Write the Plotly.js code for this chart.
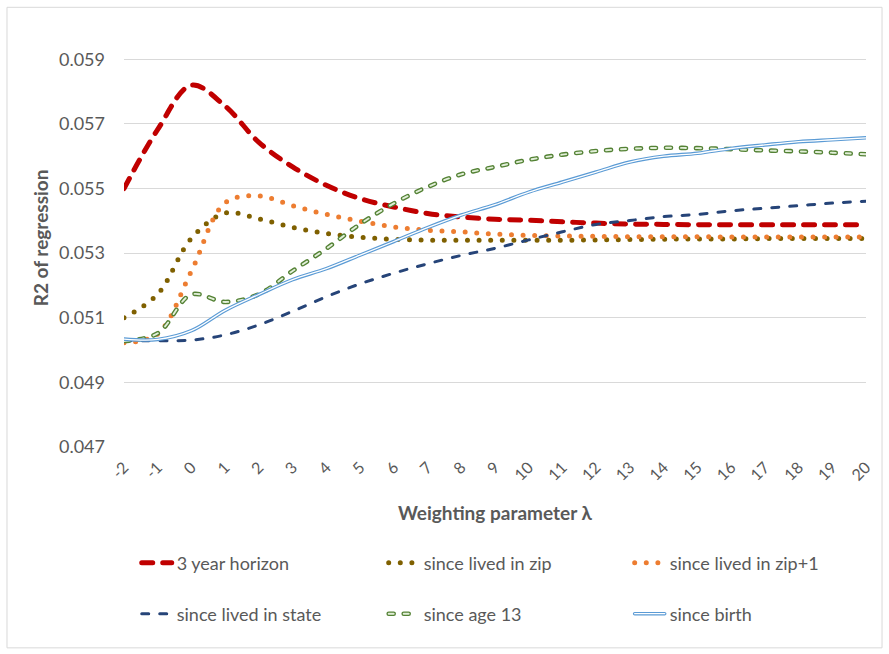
<!DOCTYPE html>
<html>
<head>
<meta charset="utf-8">
<script src="https://cdn.plot.ly/plotly-3.0.1.min.js"></script>
<style>
html,body{margin:0;padding:0;background:#fff;}
#chart{width:889px;height:654px;}
path.js-line{stroke-linecap:round;}
</style>
</head>
<body>
<div id="chart"></div>
<script>
// ---- data ----
const lambda = [-2,-1,0,1,2,3,4,5,6,7,8,9,10,11,12,13,14,15,16,17,18,19,20];
const yTicks = [0.047,0.049,0.051,0.053,0.055,0.057,0.059];
const seriesNames = ["3 year horizon","since lived in zip","since lived in zip+1","since lived in state","since age 13","since birth"];

const horizon3   = [0.0550,0.05683,0.0582,0.05755,0.05643,0.05567,0.0551,0.05469,0.05443,0.05423,0.05412,0.05405,0.05402,0.05397,0.05393,0.0539,0.05389,0.05388,0.05388,0.05388,0.05388,0.05388,0.05388];
const sinceZip   = [0.0510,0.05173,0.05346,0.05424,0.05406,0.0538,0.05361,0.05349,0.05343,0.0534,0.0534,0.0534,0.0534,0.0534,0.05341,0.05342,0.05343,0.05344,0.05344,0.05345,0.05345,0.05345,0.05345];
const sinceZip1  = [0.05023,0.0505,0.05245,0.05456,0.05477,0.05447,0.0542,0.05399,0.05381,0.05371,0.05366,0.05359,0.05355,0.05353,0.05352,0.05351,0.05351,0.05351,0.0535,0.0535,0.0535,0.0535,0.0535];
const sinceState = [0.05029,0.05029,0.05031,0.05047,0.05078,0.0512,0.05165,0.05205,0.05238,0.05267,0.05293,0.05315,0.05341,0.05366,0.05389,0.05401,0.05413,0.0542,0.05431,0.05439,0.05447,0.05455,0.05461];
const sinceAge13 = [0.05028,0.05052,0.05172,0.05149,0.05173,0.05245,0.05314,0.0539,0.05454,0.05505,0.05544,0.05567,0.05589,0.05605,0.05616,0.05623,0.05626,0.05625,0.05622,0.05618,0.05615,0.05611,0.05606];
const sinceBirth = [0.05034,0.05033,0.0506,0.05123,0.05172,0.05218,0.05252,0.05294,0.05336,0.05379,0.05418,0.0545,0.05489,0.0552,0.05551,0.05582,0.056,0.05609,0.05624,0.05635,0.05645,0.05651,0.05657];

// ---- styling ----
const FONT = 'Lato, "Open Sans", sans-serif';
const TXT = '#595959';
const BLANK = '\u00a0';

function tr(y, name, color, width, dash, legend) {
  return {
    x: lambda, y: y, name: name, type: 'scatter', mode: 'lines',
    line: {color: color, width: width, dash: dash, shape: 'spline', smoothing: 1},
    legend: legend, showlegend: true, hoverinfo: 'skip'
  };
}

const AGE_DASH = '5px,10px';

const traces = [
  tr(horizon3,   seriesNames[0], '#C00000', 5,   '11px,10px', 'legend'),
  tr(sinceZip,   seriesNames[1], '#7F6000', 5,   '0px,11.6px', 'legend2'),
  tr(sinceZip1,  seriesNames[2], '#ED7D31', 5,   '0px,11.6px', 'legend3'),
  tr(sinceState, seriesNames[3], '#264478', 3,   '7px,11px', 'legend4'),
  tr(sinceAge13, seriesNames[4], '#548235', 4.6, AGE_DASH, 'legend5'),
  tr(sinceAge13, BLANK, '#E2EFD9', 1.9, AGE_DASH, 'legend7'),
  tr(sinceBirth, seriesNames[5], '#5B9BD5', 3.6, 'solid', 'legend6'),
  tr(sinceBirth, BLANK, '#FFFFFF', 1.3, 'solid', 'legend8')
];

function leg(x, y) {
  return {
    orientation: 'h', xref: 'container', yref: 'container', xanchor: 'left', yanchor: 'middle',
    x: x, y: y,
    font: {family: FONT, size: 18, color: TXT},
    bgcolor: 'rgba(0,0,0,0)', borderwidth: 0, itemwidth: 30
  };
}

const layout = {
  width: 889, height: 654,
  margin: {l: 124, r: 23, t: 27, b: 207, pad: 0},
  paper_bgcolor: '#FFFFFF', plot_bgcolor: '#FFFFFF',
  font: {family: FONT, color: TXT},
  xaxis: {
    range: [-2, 20], tickmode: 'array', tickvals: lambda, ticktext: lambda.map(String),
    tickangle: -45, tickfont: {family: FONT, size: 16, color: TXT},
    showgrid: false, zeroline: false, showline: false, ticks: '', ticklabelstandoff: 7
  },
  yaxis: {
    range: [0.047, 0.060], tickmode: 'array', tickvals: yTicks, ticktext: yTicks.map(v => v.toFixed(3)),
    tickfont: {family: FONT, size: 18, color: TXT},
    showgrid: true, gridcolor: '#D9D9D9', gridwidth: 1, zeroline: false, showline: false,
    ticks: '', ticklabelstandoff: 18
  },
  legend:  leg(0.1538, 0.1391),
  legend2: leg(0.4316, 0.1391),
  legend3: leg(0.7083, 0.1391),
  legend4: leg(0.1538, 0.0612),
  legend5: leg(0.4316, 0.0612),
  legend6: leg(0.7083, 0.0612),
  legend7: leg(0.4316, 0.0612),
  legend8: leg(0.7083, 0.0612),
  annotations: [
    {text: '<b>R2 of regression</b>', xref: 'paper', yref: 'paper', x: -0.1132, y: 0.497,
     xanchor: 'center', yanchor: 'middle', textangle: -90, showarrow: false,
     font: {family: FONT, size: 19, color: TXT}},
    {text: '<b>Weighting parameter λ</b>', xref: 'paper', yref: 'paper', x: 0.5, y: -0.155,
     xanchor: 'center', yanchor: 'middle', showarrow: false,
     font: {family: FONT, size: 19, color: TXT}}
  ],
  shapes: [
    {type: 'rect', xref: 'paper', yref: 'paper', x0: -0.1577, x1: 1.0216, y0: -0.4782, y1: 1.0469,
     line: {color: '#D9D9D9', width: 1}, fillcolor: 'rgba(0,0,0,0)', layer: 'below'}
  ]
};

Plotly.newPlot('chart', traces, layout, {staticPlot: true, displayModeBar: false});
</script>
</body>
</html>
